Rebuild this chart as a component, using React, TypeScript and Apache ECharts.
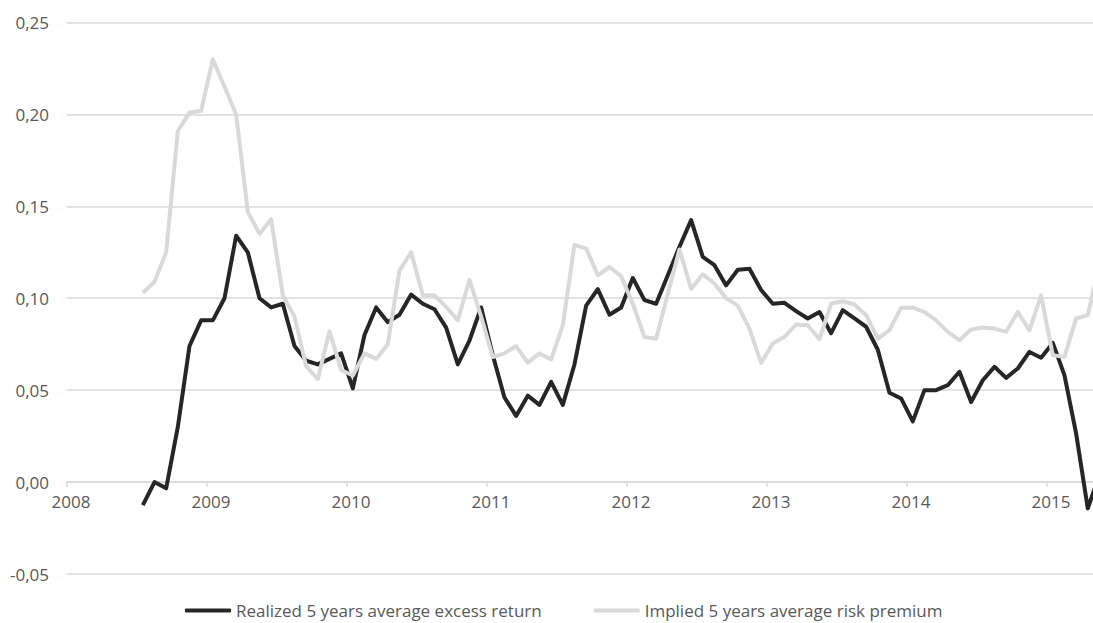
import React, { useEffect, useRef } from 'react';
import * as echarts from 'echarts';

// First observation month (YYYY-MM); one value per month after it
const firstMonth = '2008-07';

const realizedName = 'Realized 5 years average excess return';
const impliedName = 'Implied 5 years average risk premium';

const realized = [
  -0.0125, 0.0, -0.0034, 0.03, 0.074, 0.088,
  0.088, 0.1, 0.134, 0.125, 0.1, 0.095, 0.097, 0.074, 0.066, 0.064, 0.067, 0.07,
  0.051, 0.08, 0.095, 0.087, 0.091, 0.102, 0.097, 0.094, 0.084, 0.064, 0.077, 0.095,
  0.069, 0.046, 0.036, 0.047, 0.042, 0.0545, 0.042, 0.064, 0.096, 0.105, 0.091, 0.095,
  0.111, 0.099, 0.097, 0.1125, 0.128, 0.1425, 0.1225, 0.118, 0.107, 0.1155, 0.116, 0.1045,
  0.097, 0.0975, 0.093, 0.089, 0.0925, 0.081, 0.0935, 0.089, 0.0845, 0.072, 0.0486, 0.0455,
  0.033, 0.05, 0.05, 0.0527, 0.06, 0.0436, 0.0554, 0.0627, 0.0567, 0.0618, 0.0708, 0.0676,
  0.0757, 0.0582, 0.0265, -0.0143, 0.004,
];

const implied = [
  0.103, 0.109, 0.125, 0.191, 0.201, 0.202,
  0.23, 0.215, 0.2, 0.147, 0.135, 0.143, 0.1016, 0.09, 0.063, 0.056, 0.082, 0.061,
  0.058, 0.07, 0.067, 0.075, 0.115, 0.125, 0.1016, 0.1016, 0.0953, 0.088, 0.11, 0.09,
  0.068, 0.07, 0.074, 0.065, 0.07, 0.0667, 0.0853, 0.129, 0.127, 0.1125, 0.117, 0.112,
  0.097, 0.079, 0.078, 0.1025, 0.1265, 0.105, 0.113, 0.108, 0.1, 0.096, 0.0835, 0.0648,
  0.0754, 0.079, 0.0857, 0.0853, 0.0777, 0.0971, 0.0984, 0.0966, 0.0908, 0.0781, 0.0826, 0.0949,
  0.0949, 0.0926, 0.088, 0.0817, 0.0772, 0.083, 0.0841, 0.0835, 0.0817, 0.0926, 0.0826, 0.1016,
  0.069, 0.0681, 0.089, 0.0908, 0.118,
];

const yearTicks = [2008, 2009, 2010, 2011, 2012, 2013, 2014, 2015];

// convert the i-th month after firstMonth to a decimal year at mid-month
function monthPos(i: number): number {
  const [y, m] = firstMonth.split('-').map(Number);
  return y + (m - 1 + i + 0.5) / 12;
}

const FONT = 'Open Sans, sans-serif';
const LABEL_COLOR = '#595959';
const GRID_COLOR = '#d9d9d9';

const GRID_TOP = 22.5;
const GRID_BOTTOM = 49;
const CHART_H = 623;
const Y_MIN = -0.05;
const Y_MAX = 0.25;
// distance (px) from the bottom of the plot to the zero line
const zeroOffset = ((0 - Y_MIN) / (Y_MAX - Y_MIN)) * (CHART_H - GRID_TOP - GRID_BOTTOM);

export default function App() {
  const ref = useRef<HTMLDivElement>(null);

  useEffect(() => {
    if (!ref.current) return;
    const chart = echarts.init(ref.current, null, { renderer: 'svg' });
    chart.setOption({
      animation: false,
      grid: { left: 67, right: 0, top: GRID_TOP, bottom: GRID_BOTTOM, containLabel: false },
      xAxis: {
        type: 'value',
        min: 2008,
        max: 2015.329,
        position: 'bottom',
        offset: -zeroOffset,
        axisLine: { show: true, onZero: false, lineStyle: { color: GRID_COLOR, width: 1.5 } },
        axisTick: {
          show: true,
          customValues: yearTicks,
          length: 5,
          lineStyle: { color: GRID_COLOR, width: 1.5 },
        },
        axisLabel: {
          customValues: yearTicks,
          formatter: (v: number) => String(Math.round(v)),
          color: LABEL_COLOR,
          fontSize: 17,
          fontFamily: FONT,
          margin: 11,
          padding: [0, 0, 0, 8],
        },
        splitLine: { show: false },
      },
      yAxis: {
        type: 'value',
        min: Y_MIN,
        max: Y_MAX,
        interval: 0.05,
        axisLine: { show: false, onZero: false },
        axisTick: { show: false },
        axisLabel: {
          formatter: (v: number) => v.toFixed(2).replace('.', ','),
          color: LABEL_COLOR,
          fontSize: 17,
          fontFamily: FONT,
          margin: 18,
        },
        splitLine: { lineStyle: { color: GRID_COLOR, width: 1.5 } },
      },
      legend: {
        data: [realizedName, impliedName],
        left: 185,
        top: 602,
        padding: 0,
        icon: 'roundRect',
        itemWidth: 46,
        itemHeight: 4,
        itemGap: 52,
        textStyle: { color: LABEL_COLOR, fontSize: 17, fontFamily: FONT },
      },
      series: [
        {
          name: realizedName,
          type: 'line',
          data: realized.map((v, i) => [monthPos(i), v]),
          showSymbol: false,
          symbol: 'none',
          clip: true,
          lineStyle: { color: '#262626', width: 4, join: 'round' },
          itemStyle: { color: '#262626' },
        },
        {
          name: impliedName,
          type: 'line',
          data: implied.map((v, i) => [monthPos(i), v]),
          showSymbol: false,
          symbol: 'none',
          clip: true,
          lineStyle: { color: '#d9d9d9', width: 4, join: 'round' },
          itemStyle: { color: '#d9d9d9' },
        },
      ],
    });
    return () => chart.dispose();
  }, []);

  return (
    <div
      ref={ref}
      style={{ position: 'fixed', left: 0, top: 0, width: 1093, height: 623, background: '#fff' }}
    />
  );
}
